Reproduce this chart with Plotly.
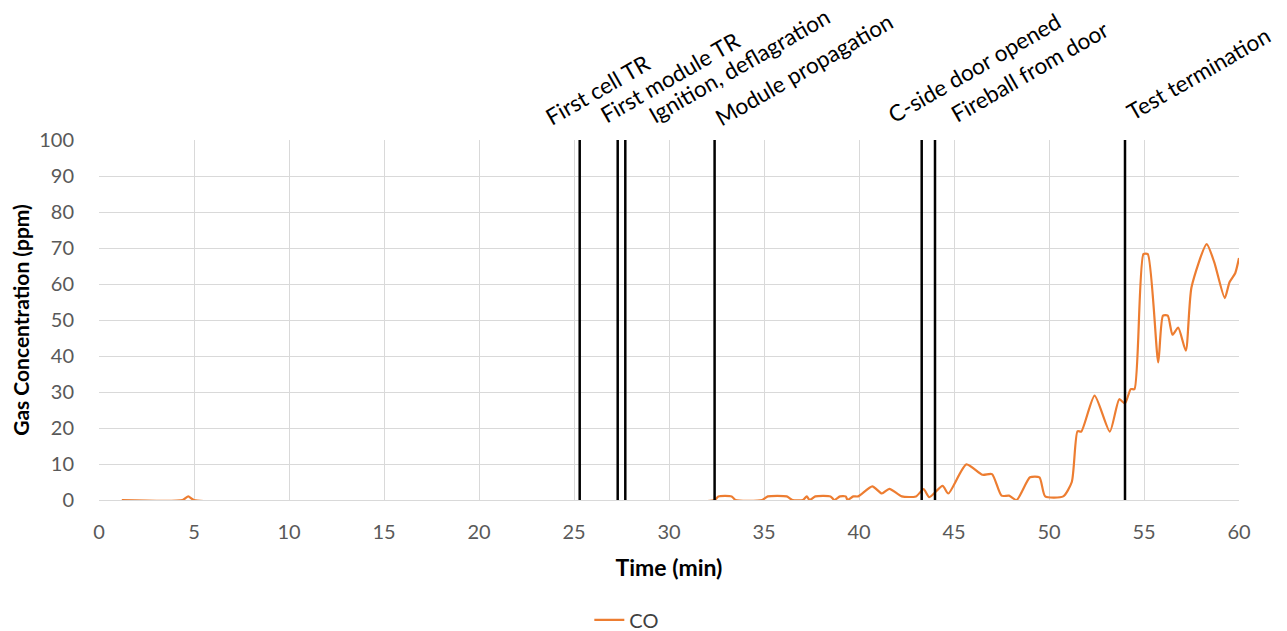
import plotly.graph_objects as go

# CO concentration (ppm) vs time (min)
time_min = [1.2, 4.4, 4.7, 5.0, 32.4, 32.6, 33.3, 33.5, 34.9, 35.2, 36.2, 36.5, 37.05, 37.25,
            37.4, 37.7, 38.5, 38.7, 39.0, 39.3, 39.4, 39.7, 39.95, 40.7, 41.2, 41.6, 42.25,
            43.0, 43.4, 43.7, 44.4, 44.7, 45.65, 46.5, 47.0, 47.5, 47.9, 48.3, 49.0, 49.5,
            49.8, 50.75, 51.2, 51.5, 51.7, 52.4, 53.2, 53.7, 54.0, 54.3, 54.5, 54.97, 55.2,
            55.75, 56.0, 56.25, 56.5, 56.8, 57.2, 57.5, 58.3, 58.7, 59.25, 59.5, 59.8, 60.0]
co_ppm = [0, 0, 1, 0, 0, 1, 1, 0, 0, 1, 1, 0, 0, 1,
          0, 1, 1, 0, 1, 1, 0, 1, 1, 3.8, 1.8, 3.1, 1,
          1, 3.0, 0.8, 3.9, 1.8, 9.9, 7.0, 7.2, 1.2, 1.2, 0, 6.3, 6.3,
          1.0, 1.0, 5, 19.1, 19, 29.0, 19, 28.0, 26.8, 30.8, 30.8, 68.3, 68.3,
          38.2, 51.2, 51.2, 45.9, 47.9, 41.5, 59.1, 71.1, 66, 56.1, 60.5, 63, 67.2]

event_times = [25.3, 27.3, 27.7, 32.4, 43.3, 44.0, 54.0]
event_labels = ["First cell TR", "First module TR", "Ignition, deflagration",
                "Module propagation", "C-side door opened", "Fireball from door",
                "Test termination"]
# pixel offsets of label box relative to each line
label_xshift = [-41, -25, 16, -7, -41, 8, -6]
label_yshift = [7, 9, 9, 6, 9, 10, 12]

x_ticks = list(range(0, 61, 5))
y_ticks = list(range(0, 101, 10))

FONT = "Lato"
GRAY = "#595959"

fig = go.Figure()
fig.add_trace(go.Scatter(x=time_min, y=co_ppm, mode="lines", name="CO",
                         line=dict(color="#ED7D31", width=2.2, shape="spline", smoothing=0.6)))

for t in event_times:
    fig.add_shape(type="line", x0=t, x1=t, y0=0, y1=100, xref="x", yref="y",
                  line=dict(color="black", width=2.5))

for t, lab, sx, sy in zip(event_times, event_labels, label_xshift, label_yshift):
    fig.add_annotation(x=t, y=1, xref="x", yref="paper", text=lab, showarrow=False,
                       textangle=-30, xanchor="left", yanchor="bottom", xshift=sx, yshift=sy,
                       font=dict(family=FONT, size=22.5, color="black"))

fig.update_layout(
    width=1279, height=623,
    margin=dict(l=91, r=48, t=132, b=131, autoexpand=False),
    paper_bgcolor="white", plot_bgcolor="white",
    font=dict(family=FONT, color=GRAY),
    showlegend=True,
    legend=dict(orientation="h", x=0.463, xanchor="center", y=-0.333, yanchor="middle",
                font=dict(family=FONT, size=20, color="#404040")),
)
fig.update_xaxes(range=[0, 60], tickvals=x_ticks, ticktext=[str(v) for v in x_ticks],
                 showgrid=True, gridcolor="#D9D9D9", gridwidth=1.3, zeroline=False,
                 showline=True, linecolor="#D9D9D9", linewidth=1.3, mirror=False,
                 tickfont=dict(family=FONT, size=20, color=GRAY),
                 ticks="outside", ticklen=14, tickcolor="rgba(0,0,0,0)",
                 title=dict(text="<b>Time (min)</b>", font=dict(family=FONT, size=23, color="black"), standoff=17))
fig.update_yaxes(range=[0, 100], tickvals=y_ticks, ticktext=[str(v) for v in y_ticks],
                 showgrid=True, gridcolor="#D9D9D9", gridwidth=1.3, zeroline=False,
                 showline=False,
                 tickfont=dict(family=FONT, size=20, color=GRAY),
                 ticks="outside", ticklen=20, tickcolor="rgba(0,0,0,0)",
                 title=dict(text="<b>Gas Concentration (ppm)</b>", font=dict(family=FONT, size=21, color="black"), standoff=6))

fig.write_html("out.html")
